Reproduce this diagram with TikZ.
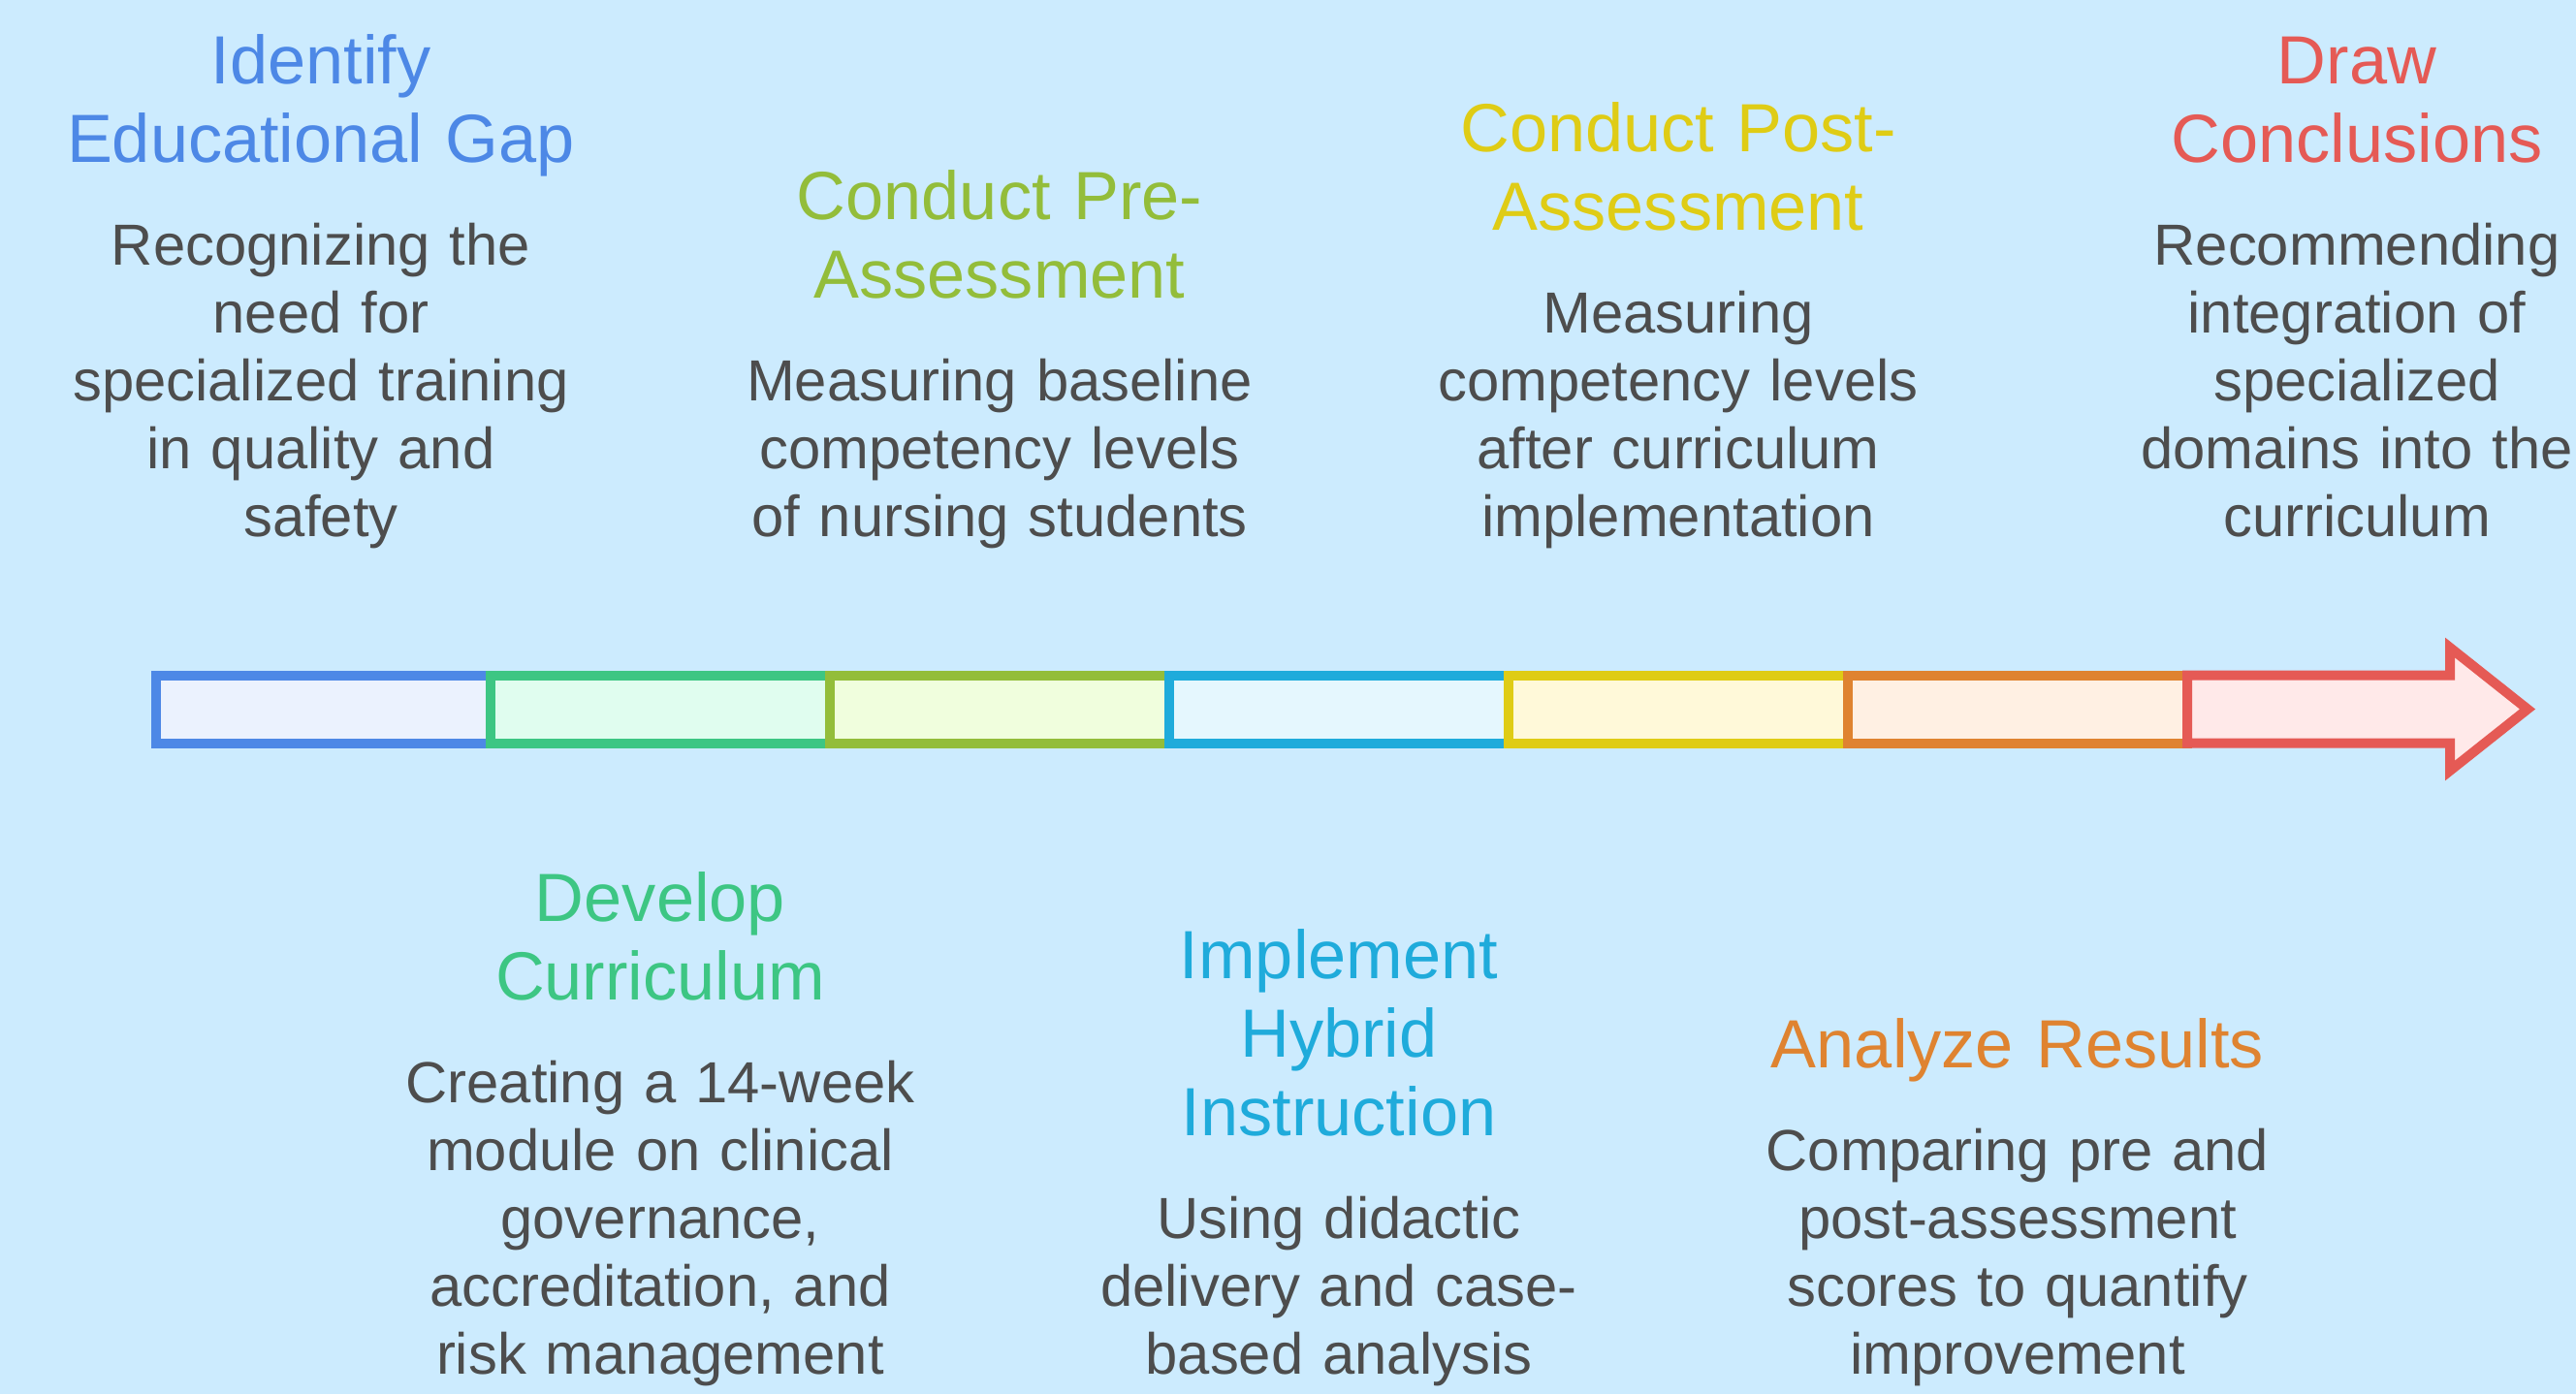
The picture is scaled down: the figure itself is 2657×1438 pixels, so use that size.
\documentclass[tikz,border=0pt]{standalone}
\usepackage{fontspec}
\setmainfont{Liberation Sans}
\usetikzlibrary{positioning}

\definecolor{bgsky}{HTML}{CCEBFE}
\definecolor{txtgray}{HTML}{4D4D4D}
\definecolor{cblue}{HTML}{4D88E6}
\definecolor{cbluel}{HTML}{EBF2FE}
\definecolor{cgreen}{HTML}{3DC683}
\definecolor{cgreenl}{HTML}{E0FDEF}
\definecolor{clime}{HTML}{93BD3A}
\definecolor{climel}{HTML}{F0FEDD}
\definecolor{ccyan}{HTML}{1FABDB}
\definecolor{ccyanl}{HTML}{E5F7FE}
\definecolor{cyellow}{HTML}{DFCC15}
\definecolor{cyellowl}{HTML}{FFF9D9}
\definecolor{corange}{HTML}{DF8330}
\definecolor{corangel}{HTML}{FFF0E3}
\definecolor{cred}{HTML}{E55A55}
\definecolor{credl}{HTML}{FFE9E9}

\begin{document}
\begin{tikzpicture}[
        x=0.01cm, y=0.01cm,
        every node/.style={inner sep=0pt, align=center, text width=6cm},
        stagetext/.style={anchor=south, text=txtgray, font=\fontsize{17}{19.9}\selectfont,
            execute at begin node=\strut, execute at end node=\strut},
        stagetitle/.style={above=0.32cm of #1, font=\fontsize{20}{23}\selectfont,
            execute at begin node=\strut, execute at end node=\strut},
        barpart/.style={line width=1mm, line join=miter}
    ]
        \useasboundingbox (0,0) rectangle (2657,1438);
        \fill[bgsky] (0,0) rectangle (2657,1438);

        % timeline bar
        \draw[barpart, draw=cblue, fill=cbluel] (161,671.5) rectangle (506,741.5);
        \draw[barpart, draw=cgreen, fill=cgreenl] (506,671.5) rectangle (856,741.5);
        \draw[barpart, draw=clime, fill=climel] (856,671.5) rectangle (1206,741.5);
        \draw[barpart, draw=ccyan, fill=ccyanl] (1206,671.5) rectangle (1556,741.5);
        \draw[barpart, draw=cyellow, fill=cyellowl] (1556,671.5) rectangle (1906,741.5);
        \draw[barpart, draw=corange, fill=corangel] (1906,671.5) rectangle (2256,741.5);
        \draw[barpart, draw=cred, fill=credl] (2256,671.5) -- (2256,741.5) -- (2527,741.5)
            -- (2527,770) -- (2607,706.5) -- (2527,643) -- (2527,671.5) -- cycle;

        % steps above the bar
        \node[stagetext] (gapText) at (331,862.5)
            {Recognizing the\\need for\\specialized training\\in quality and\\safety};
        \node[stagetitle=gapText, text=cblue] (gapTitle) {Identify\\Educational Gap};

        \node[stagetext] (preText) at (1031,862.5)
            {Measuring baseline\\competency levels\\of nursing students};
        \node[stagetitle=preText, text=clime] (preTitle) {Conduct Pre-\\Assessment};

        \node[stagetext] (postText) at (1731,862.5)
            {Measuring\\competency levels\\after curriculum\\implementation};
        \node[stagetitle=postText, text=cyellow] (postTitle) {Conduct Post-\\Assessment};

        \node[stagetext] (endText) at (2431,862.5)
            {Recommending\\integration of\\specialized\\domains into the\\curriculum};
        \node[stagetitle=endText, text=cred] (endTitle) {Draw\\Conclusions};

        % steps below the bar
        \node[stagetext] (devText) at (681,-1.5)
            {Creating a 14-week\\module on clinical\\governance,\\accreditation, and\\risk management};
        \node[stagetitle=devText, text=cgreen] (devTitle) {Develop\\Curriculum};

        \node[stagetext] (hybText) at (1381,-1.5)
            {Using didactic\\delivery and case-\\based analysis};
        \node[stagetitle=hybText, text=ccyan] (hybTitle) {Implement\\Hybrid\\Instruction};

        \node[stagetext] (resText) at (2081,-1.5)
            {Comparing pre and\\post-assessment\\scores to quantify\\improvement};
        \node[stagetitle=resText, text=corange] (resTitle) {Analyze Results};
    \end{tikzpicture}
\end{document}
